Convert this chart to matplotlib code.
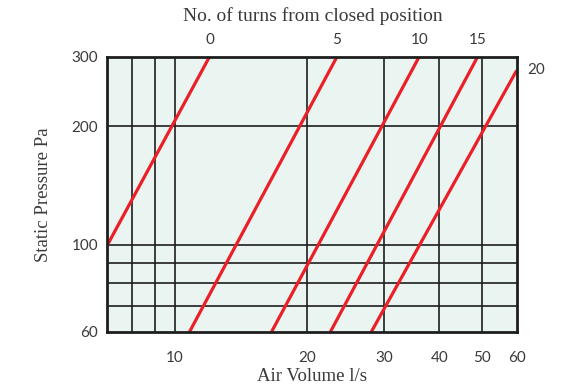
import matplotlib
matplotlib.use('Agg')
import matplotlib.pyplot as plt
from matplotlib.ticker import FixedLocator, NullLocator

# 每条阀门开度线：在图中读到的两个端点 (风量 l/s, 静压 Pa)
TURNS = ['0', '5', '10', '15', '20']
Q_START = [7.0, 10.8, 16.6, 22.6, 28.0]
P_START = [99, 60, 60, 60, 60]
Q_END = [12.0, 23.4, 36.0, 48.9, 60.0]
P_END = [300, 300, 300, 300, 277]

X_GRID = [8, 9, 10, 20, 30, 40, 50]
Y_GRID = [70, 80, 90, 100, 200]
X_TICKS = [10, 20, 30, 40, 50, 60]
Y_TICKS = [60, 100, 200, 300]

BG = '#eaf4f1'
RED = '#ea1f27'
TXT = '#3a3a3a'
SERIF = 'Liberation Serif'
SANS = 'Lato'

fig = plt.figure(figsize=(5.66, 3.91), dpi=100)
ax = fig.add_axes([0.1885, 0.151, 0.7244, 0.704])
ax.set_xscale('log')
ax.set_yscale('log')
ax.set_xlim(7, 60)
ax.set_ylim(60, 300)
ax.set_facecolor(BG)

# 网格线
for x in X_GRID:
    ax.axvline(x, color='#1e1e1e', lw=1.2, zorder=1)
for y in Y_GRID:
    ax.axhline(y, color='#1e1e1e', lw=1.2, zorder=1)

# 红色特性线
for qs, ps, qe, pe in zip(Q_START, P_START, Q_END, P_END):
    ax.plot([qs, qe], [ps, pe], color=RED, lw=2.3, solid_capstyle='butt', zorder=3)

# 顶部圈数标注
for t, qe, pe in zip(TURNS, Q_END, P_END):
    if pe >= 300:
        ax.text(qe, 1.035, t, transform=ax.get_xaxis_transform(), ha='center', va='bottom',
                fontsize=11, family=SANS, color=TXT)
    else:
        ax.text(1.025, pe, t, transform=ax.get_yaxis_transform(), ha='left', va='center',
                fontsize=11, family=SANS, color=TXT)

ax.xaxis.set_major_locator(FixedLocator(X_TICKS))
ax.xaxis.set_minor_locator(NullLocator())
ax.set_xticklabels([str(v) for v in X_TICKS])
ax.yaxis.set_major_locator(FixedLocator(Y_TICKS))
ax.yaxis.set_minor_locator(NullLocator())
ax.set_yticklabels([str(v) for v in Y_TICKS])
ax.tick_params(length=0, labelsize=11, colors=TXT, pad=6)
for lab in ax.get_xticklabels() + ax.get_yticklabels():
    lab.set_family(SANS)
ax.tick_params(axis='x', pad=14)

for s in ax.spines.values():
    s.set_linewidth(2.0)
    s.set_color('#1e1e1e')
    s.set_zorder(4)

ax.set_xlabel('Air Volume l/s', family=SERIF, fontsize=13.5, color=TXT, labelpad=2)
ax.set_ylabel('Static Pressure Pa', family=SERIF, fontsize=13.5, color=TXT, labelpad=14)
fig.text(0.552, 0.958, 'No. of turns from closed position', ha='center', va='center',
         family=SERIF, fontsize=14, color=TXT)

fig.savefig('out.png', dpi=100, facecolor='white')
